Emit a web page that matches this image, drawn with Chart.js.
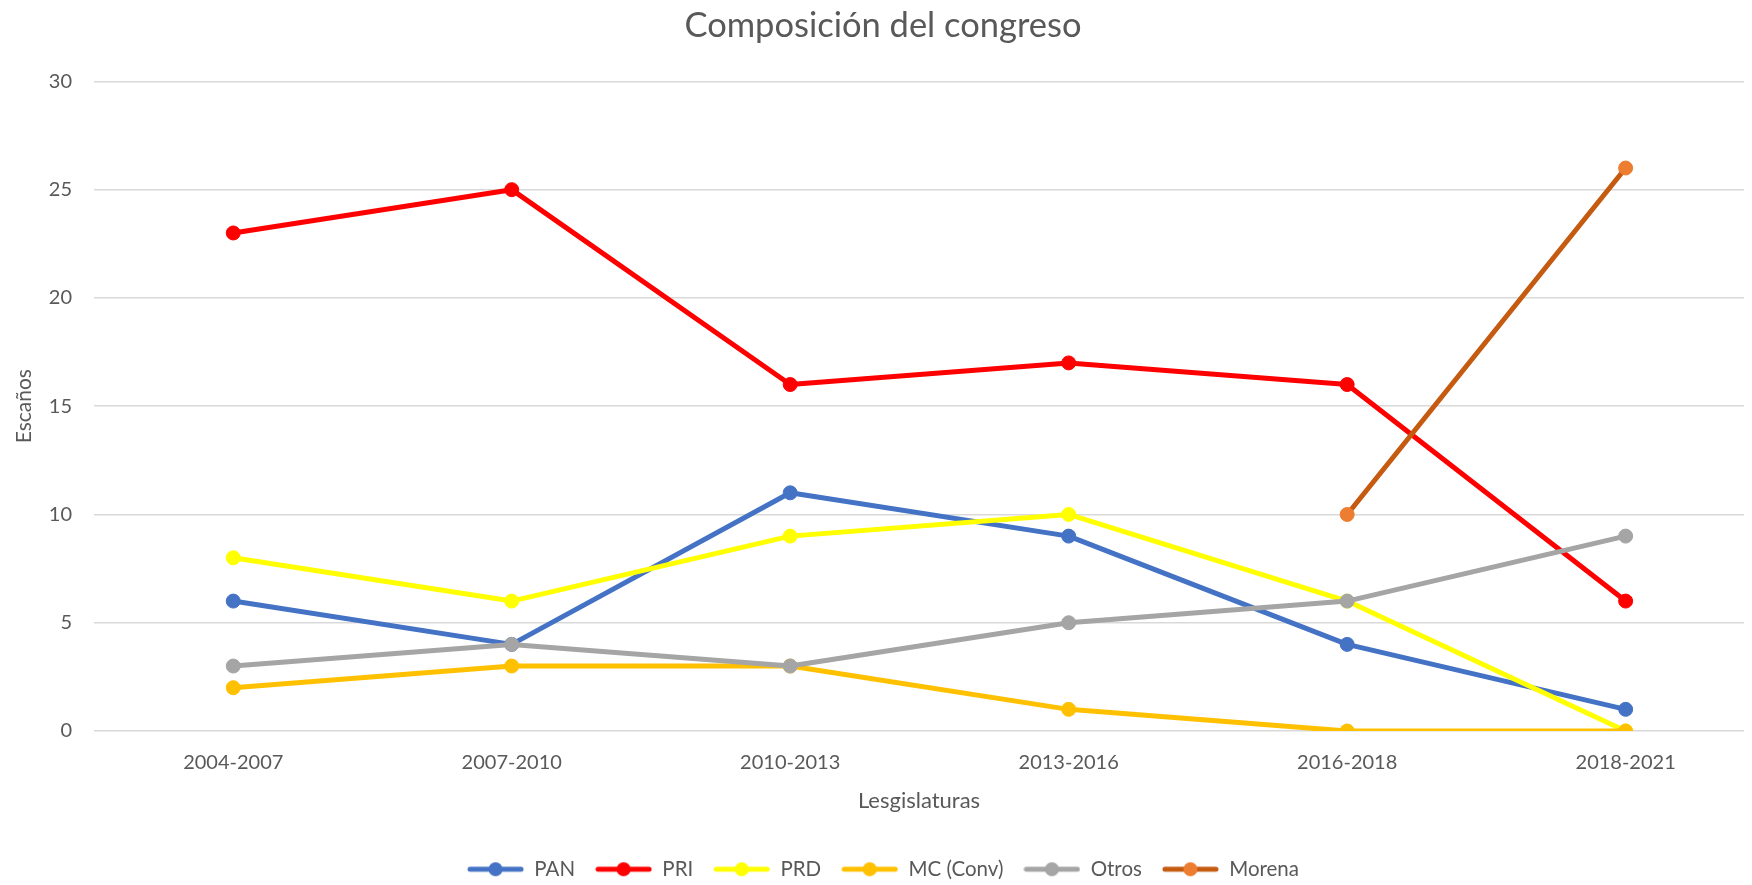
<!DOCTYPE html>
<html>
<head>
<meta charset="utf-8">
<script src="https://cdn.jsdelivr.net/npm/chart.js@4/dist/chart.umd.min.js"></script>
<style>
html,body{margin:0;padding:0;background:#fff;}
#wrap{width:1752px;height:885px;position:relative;}
</style>
</head>
<body>
<div id="wrap"><canvas id="c" width="1752" height="885"></canvas></div>
<script>
const categories = ["2004-2007","2007-2010","2010-2013","2013-2016","2016-2018","2018-2021"];
const seriesNames = ["PAN","PRI","PRD","MC (Conv)","Otros","Morena"];
const PAN = [6,4,11,9,4,1];
const PRI = [23,25,16,17,16,6];
const PRD = [8,6,9,10,6,0];
const MC = [2,3,3,1,0,0];
const Otros = [3,4,3,5,6,9];
const Morena = [null,null,null,null,10,26];
const yTicks = [0,5,10,15,20,25,30];

const seriesValues = [PAN, PRI, PRD, MC, Otros, Morena];
const lineColors = ["#4472C4","#FF0000","#FFFF00","#FFC000","#A5A5A5","#C55A11"];
const pointColors = ["#4472C4","#FF0000","#FFFF00","#FFC000","#A5A5A5","#ED7D31"];
const TXT = "#595959";
const FONT = "Lato";

function legendIcon(lc, pc){
  const cv = document.createElement('canvas');
  cv.width = 57; cv.height = 16;
  const g = cv.getContext('2d');
  g.strokeStyle = lc; g.lineWidth = 5; g.lineCap = 'round';
  g.beginPath(); g.moveTo(3,8); g.lineTo(54,8); g.stroke();
  g.fillStyle = pc; g.beginPath(); g.arc(28.5,8,7,0,Math.PI*2); g.fill();
  return cv;
}
const icons = lineColors.map((c,i)=>legendIcon(c, pointColors[i]));

const datasets = seriesNames.map((name,i)=>({
  label: name,
  data: seriesValues[i].map((v,j)=>({x:j, y:v})),
  borderColor: lineColors[i],
  backgroundColor: pointColors[i],
  pointBackgroundColor: pointColors[i],
  pointBorderColor: pointColors[i],
  borderWidth: 5,
  pointRadius: 7,
  pointBorderWidth: 1,
  tension: 0,
  spanGaps: false,
  order: seriesNames.length - i,
  borderCapStyle: 'round',
  borderJoinStyle: 'round'
}));

const legendFix = {
  id: 'legendFix',
  beforeInit(chart){
    const fit = chart.legend.fit;
    chart.legend.fit = function(){ fit.call(this); this.height = 46; };
  }
};

new Chart(document.getElementById('c'), {
  type: 'line',
  data: { datasets },
  plugins: [legendFix],
  options: {
    responsive: false,
    animation: false,
    devicePixelRatio: 1,
    layout: { padding: { left: 14, right: 0, top: 0, bottom: 0 } },
    plugins: {
      tooltip: { enabled: false },
      title: {
        display: true,
        text: "Composición del congreso",
        color: TXT,
        font: { family: FONT, size: 34.5, weight: 'normal' },
        padding: { top: 5, bottom: 35 }
      },
      legend: {
        position: 'bottom',
        labels: {
          color: TXT,
          font: { family: FONT, size: 20.5 },
          usePointStyle: true,
          pointStyleWidth: 57,
          boxHeight: 16,
          padding: 20,
          generateLabels(chart){
            return seriesNames.map((n,i)=>({
              text: n,
              pointStyle: icons[i],
              fillStyle: pointColors[i],
              strokeStyle: lineColors[i],
              lineWidth: 0,
              hidden: false,
              datasetIndex: i,
              fontColor: TXT
            }));
          }
        }
      }
    },
    scales: {
      x: {
        type: 'linear',
        min: -0.5,
        max: 5.425,
        grid: { display: false, drawTicks: false },
        border: { display: false },
        afterBuildTicks(scale){ scale.ticks = categories.map((_,i)=>({value:i})); },
        afterFit(scale){ scale.height = 108; },
        ticks: {
          color: TXT,
          font: { family: FONT, size: 20 },
          padding: 20,
          maxRotation: 0,
          autoSkip: false,
          callback: (v)=>categories[v]
        },
        title: {
          display: true,
          text: "Lesgislaturas",
          color: TXT,
          font: { family: FONT, size: 22 },
          padding: { top: 0, bottom: 25 }
        }
      },
      y: {
        min: 0,
        max: 30,
        afterBuildTicks(scale){ scale.ticks = yTicks.map(v=>({value:v})); },
        afterFit(scale){ scale.width = 80; },
        grid: { color: "#D9D9D9", lineWidth: 1.5, drawTicks: false },
        border: { display: false },
        ticks: {
          color: TXT,
          font: { family: FONT, size: 20 },
          padding: 22
        },
        title: {
          display: true,
          text: "Escaños",
          color: TXT,
          font: { family: FONT, size: 21 },
          padding: { top: -2, bottom: 0 }
        }
      }
    }
  }
});
</script>
</body>
</html>
